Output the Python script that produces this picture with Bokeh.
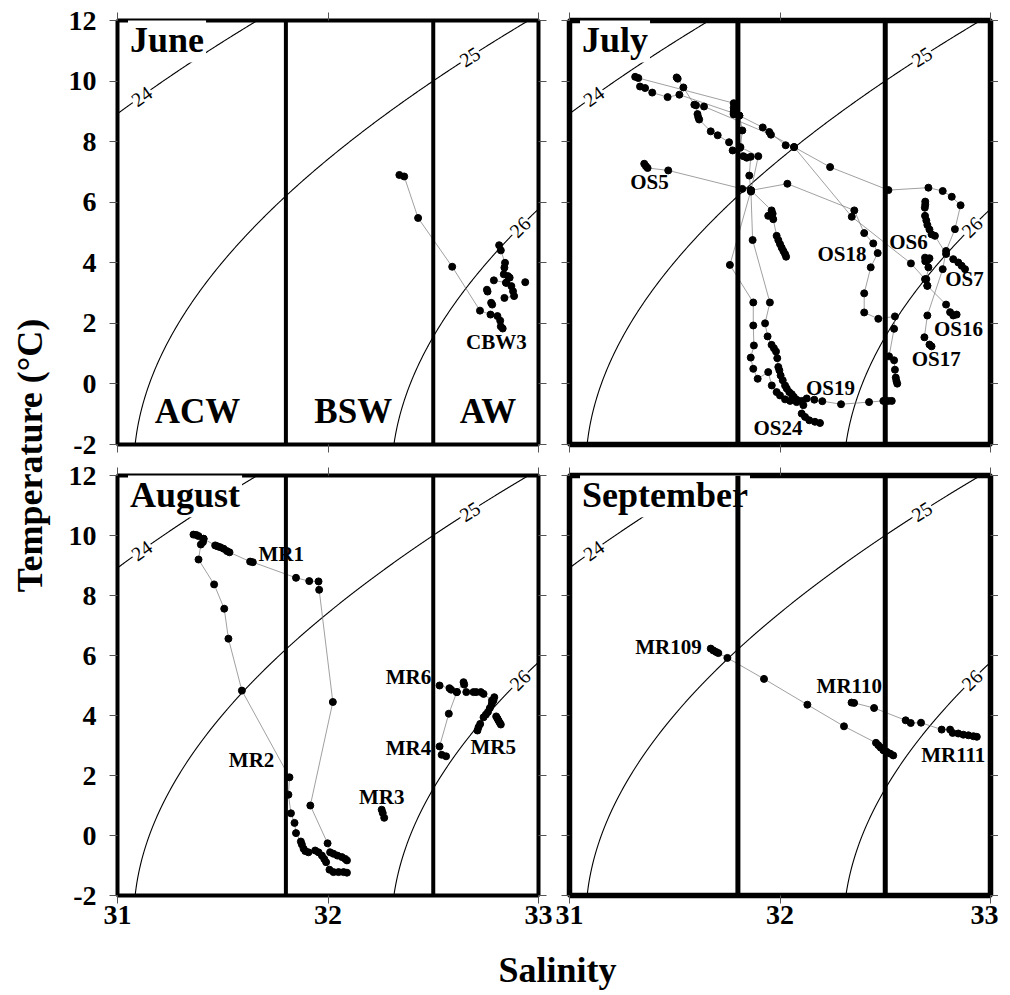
import numpy as np
from bokeh.plotting import figure
from bokeh.models import Range1d, LinearAxis, FixedTicker, Span, Label
from bokeh.layouts import row, column
from bokeh.embed import file_html
from bokeh.resources import INLINE
from bokeh.core.properties import value

FONT = "Liberation Serif"

# ---------------- data ----------------
S_TICKS = [31, 32, 33]
T_TICKS = [-2, 0, 2, 4, 6, 8, 10, 12]
SIGMA_LEVELS = [24, 25, 26]
SIGMA_LABEL_T = [9.5, 10.8, 5.18]
WATER_MASS_BOUNDS = [31.8, 32.5]
WATER_MASS_NAMES = ["ACW", "BSW", "AW"]
WATER_MASS_S = [31.38, 32.12, 32.76]
WATER_MASS_T = [-0.90, -0.90, -0.90]
MONTHS = ["June", "July", "August", "September"]
MONTH_S, MONTH_T = 31.05, 11.34

# June
JUN_CBW3_A = [(32.339, 6.90), (32.362, 6.85), (32.428, 5.48), (32.590, 3.87), (32.722, 2.42),
              (32.772, 2.29), (32.805, 2.24), (32.818, 2.09), (32.821, 1.90), (32.830, 1.83)]
JUN_CBW3_B = [(32.813, 4.58), (32.821, 4.41), (32.841, 4.00), (32.838, 3.84), (32.835, 3.62),
              (32.855, 3.56), (32.863, 3.51), (32.846, 3.34), (32.871, 3.23), (32.879, 3.06),
              (32.884, 2.90), (32.838, 2.84)]
JUN_CBW3_C = [(32.788, 3.42), (32.846, 3.34)]
JUN_EXTRA = [(32.755, 3.11), (32.758, 3.05), (32.775, 2.68), (32.780, 2.62), (32.937, 3.36)]
JUN_LABELS = ["CBW3"]
JUN_LABEL_S = [32.80]
JUN_LABEL_T = [1.38]

# July
JUL_OS5 = [(31.355, 7.27), (31.363, 7.19), (31.371, 7.13), (31.469, 7.05), (31.821, 6.44), (31.862, 6.39)]
JUL_OS24 = [(31.509, 10.12), (31.514, 10.08), (31.541, 9.79), (31.593, 9.22), (31.601, 9.20),
            (31.608, 8.91), (31.612, 8.80), (31.616, 8.73), (31.671, 8.34), (31.704, 8.21),
            (31.758, 7.98), (31.775, 7.71), (31.810, 7.80), (31.826, 7.52), (31.842, 7.47),
            (31.861, 7.50), (31.854, 6.88), (31.862, 6.35), (31.870, 4.75), (31.952, 2.69),
            (31.929, 2.00), (31.941, 1.57), (31.960, 1.29), (31.971, 1.18), (31.981, 1.07),
            (31.987, 0.85), (31.992, 0.56), (31.997, 0.45), (32.003, 0.28), (32.013, 0.12),
            (32.024, -0.05), (32.032, -0.15), (32.044, -0.27), (32.056, -0.34), (32.066, -0.43),
            (32.079, -0.52), (32.111, -0.70), (32.103, -0.98), (32.119, -1.09), (32.139, -1.20),
            (32.166, -1.25), (32.190, -1.29)]
JUL_OS19 = [(31.312, 10.14), (31.327, 10.10), (31.780, 9.27), (31.780, 9.12), (31.780, 9.00),
            (31.780, 8.90), (31.807, 8.86), (31.821, 8.37), (31.812, 7.82), (31.897, 7.52),
            (31.862, 6.39), (31.762, 3.93), (31.873, 2.69), (31.873, 1.93), (31.876, 1.27),
            (31.861, 0.87), (31.873, 0.50), (31.894, 0.17), (31.944, 0.39), (31.961, -0.05),
            (31.984, -0.27), (32.000, -0.38), (32.024, -0.51), (32.048, -0.56), (32.079, -0.60),
            (32.103, -0.56), (32.127, -0.48), (32.163, -0.52), (32.201, -0.57), (32.290, -0.67),
            (32.423, -0.60), (32.491, -0.56), (32.515, -0.56), (32.531, -0.56)]
JUL_OS18 = [(31.862, 6.39), (32.035, 6.61), (32.353, 5.73), (32.400, 4.98), (32.443, 4.64),
            (32.464, 4.32), (32.431, 3.85), (32.400, 2.99), (32.400, 2.36), (32.467, 2.15),
            (32.546, 2.23), (32.542, 1.82), (32.518, 0.91), (32.542, 0.78), (32.546, 0.47),
            (32.550, 0.21), (32.553, 0.10), (32.557, 0.01)]
JUL_OS16 = [(31.335, 9.82), (31.359, 9.77), (31.393, 9.62), (31.466, 9.47), (31.522, 9.55),
            (31.780, 8.94), (31.807, 8.86), (31.918, 8.47), (31.949, 8.32), (32.027, 7.88),
            (32.067, 7.82), (32.341, 5.52), (32.622, 3.98), (32.689, 3.46), (32.700, 3.24),
            (32.789, 2.62), (32.808, 2.37), (32.823, 2.26), (32.839, 2.29)]
JUL_OS17 = [(31.639, 9.16), (31.957, 8.23), (32.067, 7.82), (32.238, 7.16), (32.515, 6.40),
            (32.705, 6.48), (32.773, 6.37), (32.816, 6.18), (32.858, 5.90), (32.831, 5.11),
            (32.789, 4.39), (32.773, 3.79), (32.700, 2.26), (32.686, 1.54), (32.710, 1.30),
            (32.720, 1.24)]
JUL_MID = [(31.862, 6.39), (31.960, 5.73), (31.965, 5.62), (31.944, 5.55), (31.968, 5.44),
           (31.984, 4.89), (31.992, 4.75), (32.000, 4.62), (32.008, 4.50), (32.016, 4.39),
           (32.024, 4.29), (32.029, 4.20)]
JUL_OS7 = [(32.690, 6.02), (32.690, 5.92), (32.688, 5.82), (32.689, 5.55), (32.695, 5.40),
           (32.700, 5.25), (32.710, 5.10), (32.720, 4.94), (32.736, 4.89), (32.789, 4.29),
           (32.823, 4.12), (32.847, 4.01), (32.863, 3.90), (32.879, 3.79)]
JUL_OS6 = [(32.689, 4.17), (32.695, 4.12), (32.700, 4.08), (32.710, 4.15), (32.690, 4.05),
           (32.705, 3.85), (32.695, 3.46), (32.700, 3.24)]
JUL_LABELS = ["OS5", "OS18", "OS6", "OS7", "OS16", "OS17", "OS19", "OS24"]
JUL_LABEL_S = [31.38, 32.294, 32.61, 32.876, 32.848, 32.742, 32.24, 31.99]
JUL_LABEL_T = [6.66, 4.29, 4.67, 3.48, 1.80, 0.82, -0.14, -1.46]

# August
AUG_MR1 = [(31.409, 9.89), (31.464, 9.67), (31.475, 9.64), (31.488, 9.61), (31.504, 9.56),
           (31.520, 9.48), (31.532, 9.44), (31.630, 9.13), (31.643, 9.11), (31.848, 8.59),
           (31.911, 8.48), (31.955, 8.47), (31.958, 8.19), (32.023, 4.45), (31.916, 1.00),
           (31.998, -0.26), (32.010, -0.56), (32.026, -0.61), (32.045, -0.67), (32.066, -0.72),
           (32.082, -0.78), (32.090, -0.83)]
AUG_MR2 = [(31.361, 10.03), (31.374, 10.02), (31.385, 9.98), (31.409, 9.89), (31.406, 9.78),
           (31.396, 9.70), (31.385, 9.20), (31.459, 8.37), (31.507, 7.56), (31.527, 6.56),
           (31.591, 4.83), (31.817, 1.94), (31.812, 1.36), (31.824, 0.74), (31.841, 0.42),
           (31.848, 0.08), (31.871, -0.20), (31.876, -0.30), (31.884, -0.44), (31.892, -0.52),
           (31.907, -0.56), (31.939, -0.50), (31.955, -0.56), (31.971, -0.67), (31.982, -0.78),
           (31.991, -0.89), (32.007, -1.14), (32.026, -1.22), (32.050, -1.22), (32.074, -1.22),
           (32.090, -1.24)]
AUG_MR3 = [(32.255, 0.86), (32.260, 0.75), (32.267, 0.59)]
AUG_MR4 = [(32.612, 4.78), (32.574, 4.06), (32.530, 2.97), (32.540, 2.69), (32.561, 2.64)]
AUG_MR6 = [(32.530, 5.00), (32.577, 4.91), (32.585, 4.86), (32.612, 4.78), (32.644, 5.11),
           (32.647, 5.03), (32.657, 4.78), (32.691, 4.78), (32.704, 4.78), (32.726, 4.78),
           (32.739, 4.72), (32.779, 4.50)]
AUG_MR5 = [(32.790, 4.61), (32.786, 4.50), (32.778, 4.38), (32.769, 4.25), (32.760, 4.12),
           (32.750, 4.03), (32.739, 3.94), (32.723, 3.72), (32.715, 3.61), (32.710, 3.50)]
AUG_MR5B = [(32.799, 3.97), (32.805, 3.90), (32.810, 3.83), (32.816, 3.76), (32.821, 3.70)]
AUG_LABELS = ["MR1", "MR2", "MR3", "MR4", "MR5", "MR6"]
AUG_LABEL_S = [31.778, 31.637, 32.255, 32.382, 32.785, 32.382]
AUG_LABEL_T = [9.38, 2.51, 1.29, 2.92, 2.95, 5.28]

# September
SEP_MR109 = [(31.671, 6.23), (31.683, 6.17), (31.696, 6.12), (31.707, 6.08), (31.750, 5.92),
             (31.924, 5.22), (32.130, 4.36), (32.304, 3.64), (32.456, 3.09), (32.467, 3.01),
             (32.478, 2.93), (32.491, 2.84), (32.507, 2.79), (32.523, 2.73), (32.538, 2.67)]
SEP_MR110 = [(32.340, 4.43), (32.352, 4.42), (32.447, 4.25), (32.597, 3.84), (32.621, 3.75),
             (32.670, 3.76), (32.768, 3.53), (32.808, 3.53), (32.820, 3.42), (32.847, 3.40),
             (32.871, 3.36), (32.895, 3.34), (32.919, 3.31), (32.935, 3.29)]
SEP_LABELS = ["MR109", "MR110", "MR111"]
SEP_LABEL_S = [31.47, 32.329, 32.823]
SEP_LABEL_T = [6.28, 4.98, 2.70]

PANELS = [
    ("June", [JUN_CBW3_A, JUN_CBW3_B, JUN_CBW3_C], JUN_EXTRA, JUN_LABELS, JUN_LABEL_S, JUN_LABEL_T),
    ("July", [JUL_OS5, JUL_OS24, JUL_OS19, JUL_OS18, JUL_OS16, JUL_OS17, JUL_MID, JUL_OS7, JUL_OS6],
     [], JUL_LABELS, JUL_LABEL_S, JUL_LABEL_T),
    ("August", [AUG_MR1, AUG_MR2, AUG_MR3, AUG_MR4, AUG_MR6, AUG_MR5, AUG_MR5B],
     [], AUG_LABELS, AUG_LABEL_S, AUG_LABEL_T),
    ("September", [SEP_MR109, SEP_MR110], [], SEP_LABELS, SEP_LABEL_S, SEP_LABEL_T),
]


# ---------------- sigma-t (UNESCO EOS-80, p = 0) ----------------
def sigma_t(S, T):
    rw = (999.842594 + 6.793952e-2 * T - 9.095290e-3 * T**2 + 1.001685e-4 * T**3
          - 1.120083e-6 * T**4 + 6.536332e-9 * T**5)
    A = 8.24493e-1 - 4.0899e-3 * T + 7.6438e-5 * T**2 - 8.2467e-7 * T**3 + 5.3875e-9 * T**4
    B = -5.72466e-3 + 1.0227e-4 * T - 1.6546e-6 * T**2
    C = 4.8314e-4
    return rw + A * S + B * S**1.5 + C * S**2 - 1000.0


def isopycnal_S(level, T):
    T = np.asarray(T, dtype=float)
    S = np.full_like(T, 32.0)
    for _ in range(40):
        f = sigma_t(S, T) - level
        d = (sigma_t(S + 1e-4, T) - sigma_t(S - 1e-4, T)) / 2e-4
        S = S - f / d
    return S


T_GRID = np.linspace(-2.3, 12.3, 500)
XPX, YPX = 210.5, 30.2

# ---------------- layout sizes ----------------
FW = 421
TOP_FH, BOT_FH = 424, 420
YL_W = 60
LB, RB_L, LB_R, RB_R = 57, 15, 16, 8
TB_T, BB_T, TB_B, BB_B = 20, 15, 16, 44


def make_panel(idx):
    month, casts, extra, labs, lab_s, lab_t = PANELS[idx]
    top = idx < 2
    left = idx % 2 == 0
    p = figure(frame_width=FW, frame_height=TOP_FH if top else BOT_FH,
               x_range=Range1d(31, 33), y_range=Range1d(-2, 12),
               output_backend="svg", toolbar_location=None,
               x_axis_location=None, y_axis_location=None,
               min_border_left=LB if left else LB_R,
               min_border_right=RB_L if left else RB_R,
               min_border_top=TB_T if top else TB_B,
               min_border_bottom=BB_T if top else BB_B,
               background_fill_color="white", border_fill_color="white")
    p.grid.visible = False
    p.outline_line_color = "black"
    p.outline_line_width = 4 if left else 5.5

    def axis(ticks, labelled):
        ax = LinearAxis(ticker=FixedTicker(ticks=ticks), major_tick_out=8, major_tick_in=0,
                        minor_tick_out=0, minor_tick_in=0, axis_line_color=None,
                        major_tick_line_color="#555555", major_tick_line_width=1)
        if labelled:
            ax.major_label_text_font = FONT
            ax.major_label_text_font_style = "bold"
            ax.major_label_text_font_size = "28px"
            ax.major_label_text_color = "black"
            ax.major_label_overrides = {t: str(t) for t in ticks}
        else:
            ax.major_label_overrides = {t: "" for t in ticks}
            ax.major_label_text_font_size = "1px"
            ax.major_label_standoff = 0
        return ax

    ax_l = axis(T_TICKS, left)
    if left:
        ax_l.major_label_standoff = 13
    p.add_layout(ax_l, "left")
    p.add_layout(axis(T_TICKS, False), "right")
    p.add_layout(axis(S_TICKS, False), "above")
    ax_b = axis(S_TICKS, not top)
    if not top:
        ax_b.major_label_standoff = 2
    p.add_layout(ax_b, "below")

    # isopycnals
    for lev, lt in zip(SIGMA_LEVELS, SIGMA_LABEL_T):
        p.line(isopycnal_S(lev, T_GRID), T_GRID, line_color="black", line_width=1.1)
        s0 = float(isopycnal_S(lev, np.array([lt]))[0])
        s1 = float(isopycnal_S(lev, np.array([lt + 0.1]))[0])
        ang = np.arctan2(0.1 * YPX, (s1 - s0) * XPX)
        p.add_layout(Label(x=s0, y=lt, text=str(lev), angle=float(ang),
                           text_align="center", text_baseline="middle",
                           text_font=FONT, text_font_size="20px", text_color="black",
                           background_fill_color="white", padding=1))

    # casts
    for c in casts:
        xs = [a for a, b in c]
        ys = [b for a, b in c]
        p.line(xs, ys, line_color="#777777", line_width=0.7)
    for c in casts + ([extra] if extra else []):
        xs = [a for a, b in c]
        ys = [b for a, b in c]
        p.scatter(xs, ys, size=7, color="black")

    # station labels
    p.text(x=lab_s, y=lab_t, text=labs, text_align="center", text_baseline="middle",
           text_font=value(FONT), text_font_style="bold", text_font_size="21px",
           text_color="black")

    if idx == 0:
        p.text(x=WATER_MASS_S, y=WATER_MASS_T, text=WATER_MASS_NAMES, text_align="center",
               text_baseline="middle", text_font=value(FONT), text_font_style="bold",
               text_font_size="35px", text_color="black")

    p.add_layout(Label(x=MONTH_S, y=MONTH_T, text=month, text_align="left",
                       text_baseline="middle", text_font=FONT, text_font_style="bold",
                       text_font_size="36px", text_color="black",
                       background_fill_color="white", padding=2))

    # water-mass boundaries (drawn over the month label box)
    for loc in WATER_MASS_BOUNDS:
        p.add_layout(Span(location=loc, dimension="height", line_color="black",
                          line_width=4 if left else 5, level="overlay"))
    return p


panels = [make_panel(i) for i in range(4)]

TOTAL_H = (TB_T + TOP_FH + BB_T) + (TB_B + BOT_FH + BB_B)
ylab = figure(width=YL_W, height=TOTAL_H, x_range=Range1d(0, YL_W), y_range=Range1d(0, TOTAL_H),
              output_backend="svg", toolbar_location=None, min_border=0,
              x_axis_location=None, y_axis_location=None)
ylab.grid.visible = False
ylab.outline_line_color = None
ylab.add_layout(Label(x=29, y=TOTAL_H - 455, text="Temperature (°C)", angle=np.pi / 2,
                      text_align="center", text_baseline="middle", text_font=FONT,
                      text_font_style="bold", text_font_size="36px", text_color="black"))

TOTAL_W = YL_W + (LB + FW + RB_L) + (LB_R + FW + RB_R)
XL_H = 55
xlab = figure(width=TOTAL_W, height=XL_H, x_range=Range1d(0, TOTAL_W), y_range=Range1d(0, XL_H),
              output_backend="svg", toolbar_location=None, min_border=0,
              x_axis_location=None, y_axis_location=None)
xlab.grid.visible = False
xlab.outline_line_color = None
xlab.add_layout(Label(x=557, y=25, text="Salinity", text_align="center",
                      text_baseline="middle", text_font=FONT, text_font_style="bold",
                      text_font_size="36px", text_color="black"))

grid = column(row(panels[0], panels[1]), row(panels[2], panels[3]))
layout = column(row(ylab, grid), xlab)

with open("out.html", "w") as f:
    f.write(file_html(layout, INLINE))
